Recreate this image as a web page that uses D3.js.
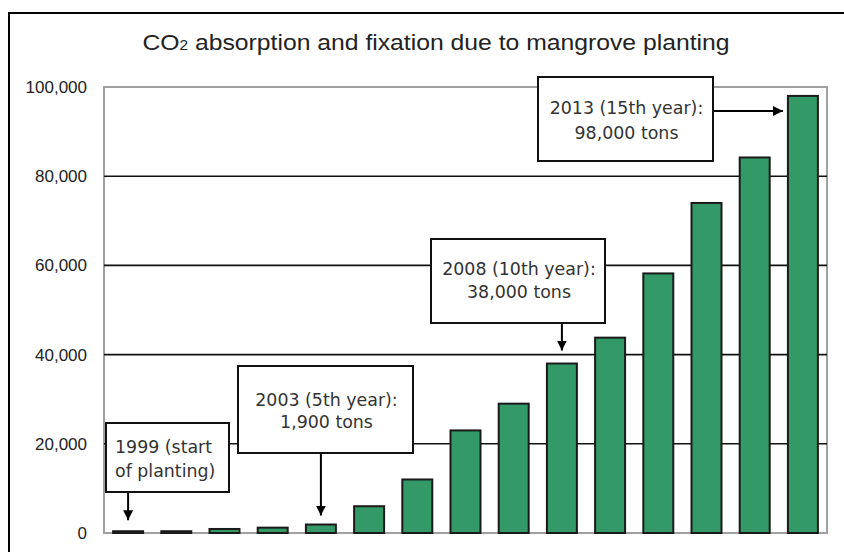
<!DOCTYPE html>
<html>
<head>
<meta charset="utf-8">
<script src="https://cdn.jsdelivr.net/npm/d3@7"></script>
<style>
  html, body { margin: 0; padding: 0; background: #fff; }
  svg { display: block; }
</style>
</head>
<body>
<svg id="chart" width="844" height="552"></svg>
<script>
// Cumulative CO2 absorbed and fixed by the mangrove plantations (tons)
const years = ["1999", "2000", "2001", "2002", "2003", "2004", "2005", "2006",
               "2007", "2008", "2009", "2010", "2011", "2012", "2013"];
const tons = [400, 400, 900, 1200, 1900, 6000, 12000, 23000,
              29000, 38000, 43800, 58200, 74000, 84200, 98000];
const yTicks = [0, 20000, 40000, 60000, 80000, 100000];

// Callout notes: which year each points at and the lines inside the box
const noteYears = ["1999", "2003", "2008", "2013"];
const noteLines = [
  ["1999 (start", "of planting)"],
  ["2003 (5th year):", "1,900 tons"],
  ["2008 (10th year):", "38,000 tons"],
  ["2013 (15th year):", "98,000 tons"]
];

const svg = d3.select("#chart");
const W = 844, H = 552;
const plot = { left: 104, right: 827, top: 87, bottom: 533 };

svg.append("rect").attr("width", W).attr("height", H).attr("fill", "#fff");

// outer frame (runs off the right and bottom edges)
svg.append("rect")
  .attr("x", 9).attr("y", 13)
  .attr("width", W + 20).attr("height", H + 20)
  .attr("fill", "none").attr("stroke", "#000").attr("stroke-width", 2);

// title with subscript 2
const title = svg.append("text")
  .attr("x", 436).attr("y", 50)
  .attr("text-anchor", "middle")
  .attr("font-family", "'Liberation Sans', Arial, sans-serif")
  .attr("font-size", 22.5)
  .attr("textLength", 587)
  .attr("lengthAdjust", "spacingAndGlyphs")
  .attr("fill", "#222");
title.append("tspan").text("CO");
title.append("tspan").attr("font-size", 14).text("2");
title.append("tspan").text(" absorption and fixation due to mangrove planting");

const x = d3.scaleBand()
  .domain(years)
  .range([plot.left, plot.right])
  .paddingInner(0.378)
  .paddingOuter(0.189);

const y = d3.scaleLinear()
  .domain([0, 100000])
  .range([plot.bottom, plot.top]);

// plot frame in grey
svg.append("rect")
  .attr("x", plot.left).attr("y", plot.top)
  .attr("width", plot.right - plot.left).attr("height", plot.bottom - plot.top)
  .attr("fill", "none").attr("stroke", "#a0a0a0").attr("stroke-width", 2);

// black gridlines between the frame edges
svg.append("g").selectAll("line")
  .data(yTicks.filter(d => d > 0 && d < 100000))
  .join("line")
  .attr("x1", plot.left).attr("x2", plot.right)
  .attr("y1", d => y(d)).attr("y2", d => y(d))
  .attr("stroke", "#111").attr("stroke-width", 1.6);

// y axis labels
const yAxis = d3.axisLeft(y)
  .tickValues(yTicks)
  .tickSize(0)
  .tickPadding(0)
  .tickFormat(d3.format(","));
const ya = svg.append("g")
  .attr("transform", `translate(${plot.left - 17},0)`)
  .call(yAxis);
ya.select(".domain").remove();
ya.selectAll("text")
  .attr("font-family", "'Liberation Sans', Arial, sans-serif")
  .attr("font-size", 17)
  .attr("fill", "#222");

// bars
svg.append("g").selectAll("rect")
  .data(years.map((yr, i) => ({ yr, v: tons[i] })))
  .join("rect")
  .attr("x", d => x(d.yr))
  .attr("width", x.bandwidth())
  .attr("y", d => y(d.v))
  .attr("height", d => y(0) - y(d.v))
  .attr("fill", "#339966")
  .attr("stroke", "#1a1a1a")
  .attr("stroke-width", 2);

// callouts
const defs = svg.append("defs");
defs.append("marker")
  .attr("id", "head")
  .attr("viewBox", "0 0 10 10")
  .attr("refX", 10).attr("refY", 5)
  .attr("markerWidth", 10).attr("markerHeight", 10)
  .attr("markerUnits", "userSpaceOnUse")
  .attr("orient", "auto")
  .append("path").attr("d", "M0,0 L10,5 L0,10 Z").attr("fill", "#000");

const boxes = [
  { x0: 106, y0: 423, x1: 229, y1: 492, align: "start", tx: 115, base: [453, 477] },
  { x0: 238, y0: 366, x1: 413, y1: 453, align: "middle", base: [406, 428] },
  { x0: 431, y0: 239, x1: 605, y1: 323, align: "middle", base: [275, 298] },
  { x0: 538, y0: 77, x1: 713, y1: 161, align: "middle", base: [114, 139] }
];

const tonsOf = yr => tons[years.indexOf(yr)];
const cx = yr => x(yr) + x.bandwidth() / 2;

noteYears.forEach((yr, i) => {
  const b = boxes[i];
  const g = svg.append("g");
  // arrow first so the box covers its tail
  if (i < 3) {
    g.append("line")
      .attr("x1", cx(yr)).attr("x2", cx(yr))
      .attr("y1", b.y1).attr("y2", y(tonsOf(yr)) - (i === 1 ? 9 : (i === 0 ? 11 : 13)))
      .attr("stroke", "#000").attr("stroke-width", 2)
      .attr("marker-end", "url(#head)");
  } else {
    g.append("line")
      .attr("x1", b.x1).attr("x2", x(yr) - 5)
      .attr("y1", 111).attr("y2", 111)
      .attr("stroke", "#000").attr("stroke-width", 2)
      .attr("marker-end", "url(#head)");
  }
  g.append("rect")
    .attr("x", b.x0).attr("y", b.y0)
    .attr("width", b.x1 - b.x0).attr("height", b.y1 - b.y0)
    .attr("fill", "#fff").attr("stroke", "#111").attr("stroke-width", 2);
  noteLines[i].forEach((line, j) => {
    g.append("text")
      .attr("x", b.align === "start" ? b.tx : (b.x0 + b.x1) / 2 + 1)
      .attr("y", b.base[j])
      .attr("text-anchor", b.align)
      .attr("font-family", "'DejaVu Sans', sans-serif")
      .attr("font-size", 17.4)
      .attr("fill", "#333")
      .text(line);
  });
});
</script>
</body>
</html>
